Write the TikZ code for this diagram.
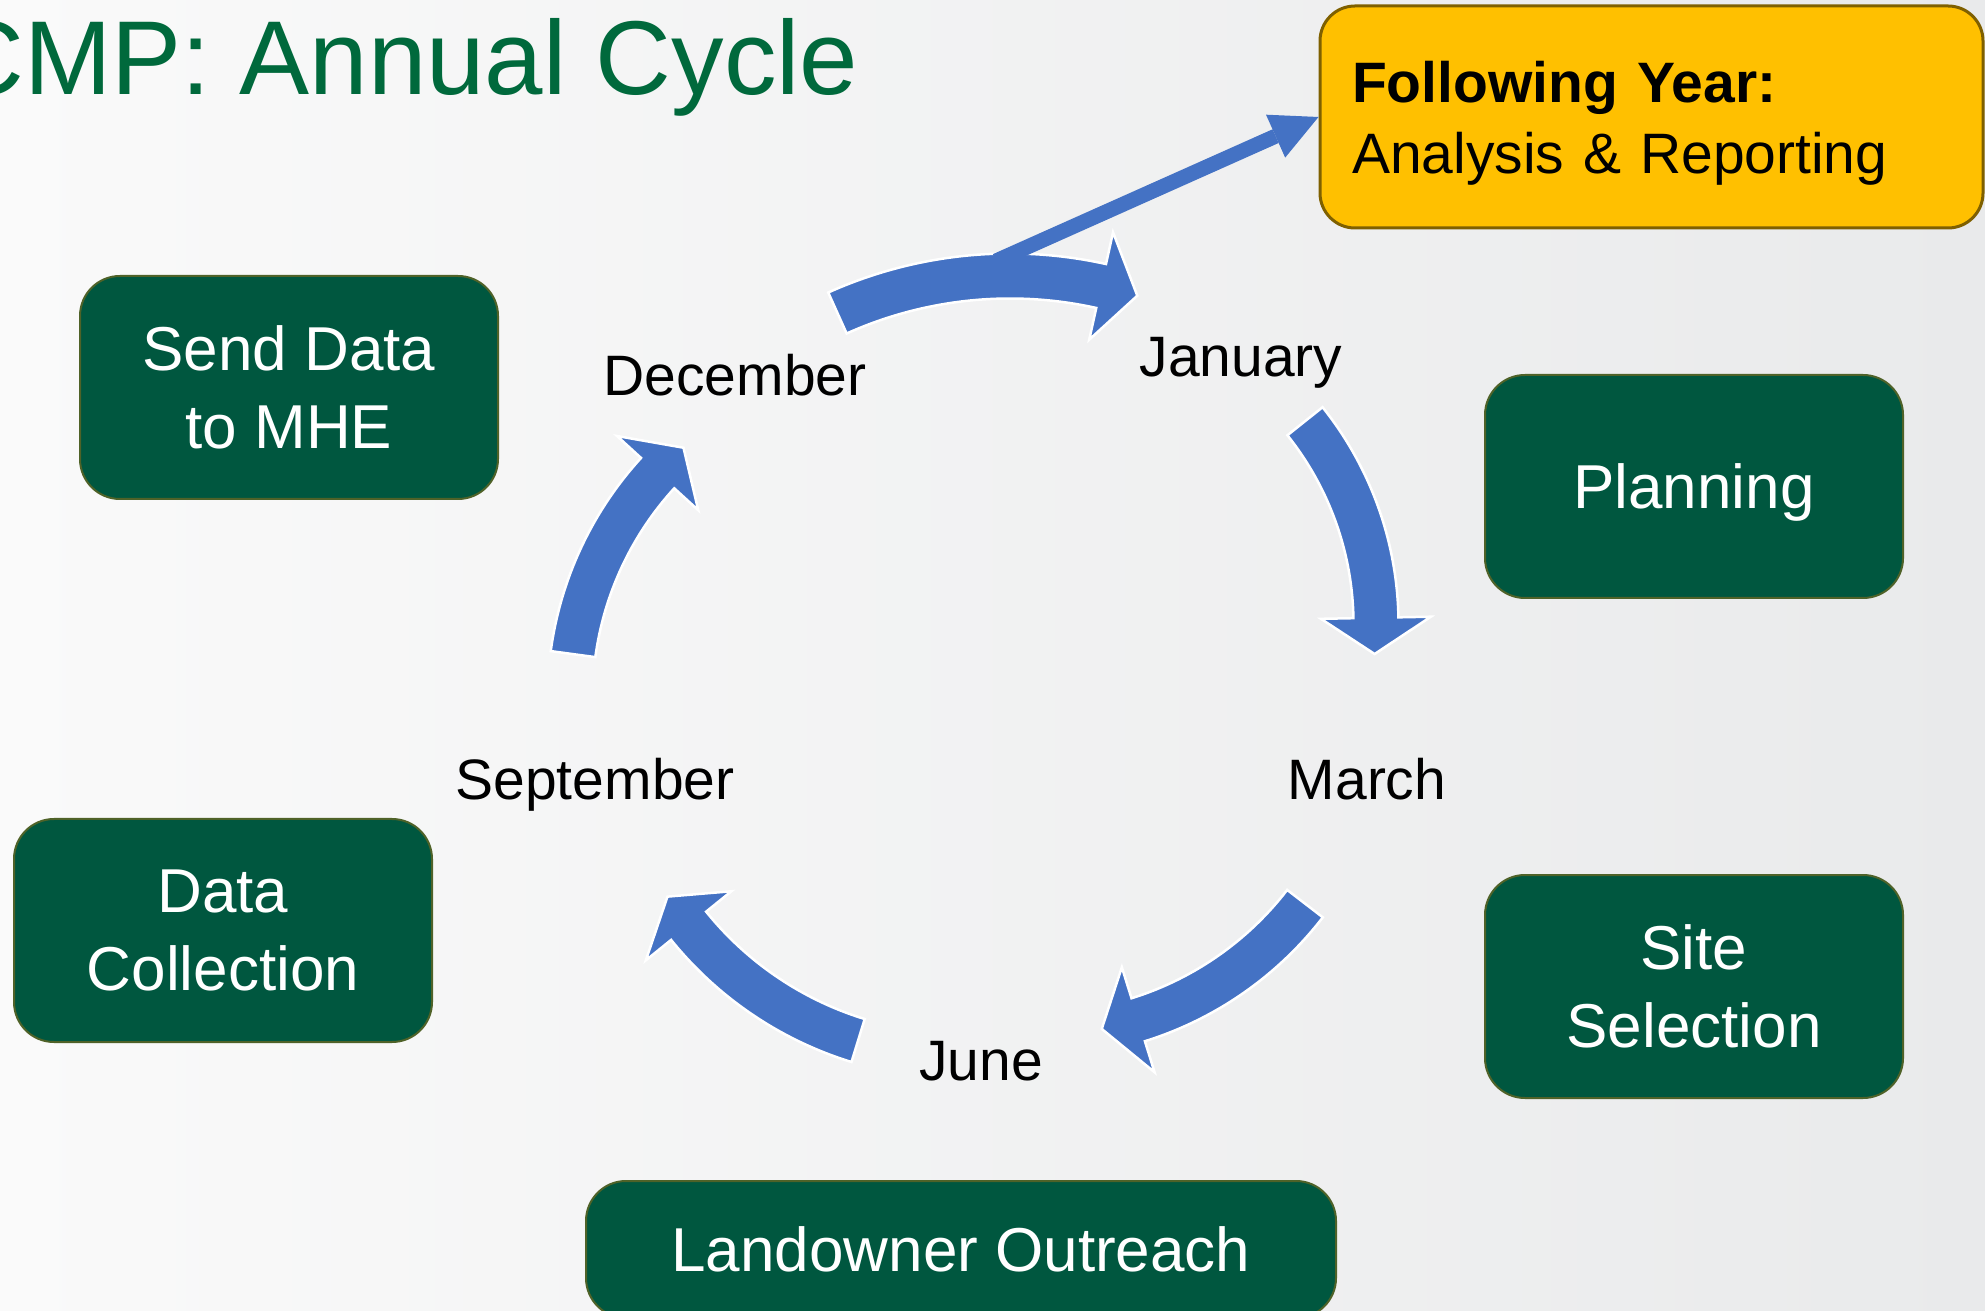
\documentclass[tikz,border=0pt]{standalone}
\usepackage{fontspec}
\setmainfont{Liberation Sans}
\usepackage{tikz}
\usetikzlibrary{arrows.meta,calc}
\definecolor{cycleblue}{HTML}{4472C4}
\definecolor{boxgreen}{HTML}{00573F}
\definecolor{boxrim}{HTML}{4F6228}
\definecolor{gold}{HTML}{FFC000}
\definecolor{goldrim}{HTML}{7F6000}
\definecolor{titlegreen}{HTML}{00693C}
\definecolor{bgleft}{HTML}{FAFAFA}
\definecolor{bgright}{HTML}{E9EAEB}
\def\fs#1#2{\fontsize{#1pt}{#2pt}\selectfont}
% curved block arrow: centre x, centre y, radius, start angle, neck angle, tip angle
\def\cyclearrow#1#2#3#4#5#6{\fill[cyclearc] ($(#1pt,#2pt)+(#4:{#3pt+22.5pt})$) arc[start angle=#4, end angle=#5, radius=#3pt+22.5pt] -- ($(#1pt,#2pt)+(#5:{#3pt+55pt})$) -- ($(#1pt,#2pt)+(#6:#3pt)$) -- ($(#1pt,#2pt)+(#5:{#3pt-55pt})$) -- ($(#1pt,#2pt)+(#5:{#3pt-22.5pt})$) arc[start angle=#5, end angle=#4, radius=#3pt-22.5pt] -- cycle;}

\begin{document}
\begin{tikzpicture}[cyclearc/.style={fill=cycleblue, draw=white, line width=2.5pt, line join=miter}, feed/.style={draw=cycleblue, line width=15pt, -{Triangle[width=47pt, length=47pt, line width=0pt]}}, month/.style={font=\fs{57}{68}, inner sep=0pt, anchor=base}, greenbox/.style={rectangle, rounded corners=40pt, fill=boxgreen, draw=boxrim, line width=2pt, text=white, align=center, font=\fs{62}{78}, minimum width=418pt, minimum height=223pt, inner sep=0pt, text depth=0pt}]
	\useasboundingbox (0pt, 0pt) rectangle (1985pt, 1310pt);
	\shade[left color=bgleft, right color=bgright] (0pt, 0pt) rectangle (1985pt, 1310pt);
	\draw (-52.0pt, 1215.0pt)node[anchor=base west, inner sep=0pt, text=titlegreen, font=\fs{105}{120}](title){CMP: Annual Cycle};
	\draw (1651.5pt, 1193.0pt)node[rectangle, rounded corners=35pt, fill=gold, draw=goldrim, line width=3pt, minimum width=663pt, minimum height=222pt, text width=599pt, inner xsep=32pt, inner ysep=0pt, align=left, font=\fs{57}{71}, text depth=71pt](follow){\textbf{Following Year:}\\Analysis \& Reporting};
	\draw (289.0pt, 922.5pt)node[greenbox](send){Send Data\\to MHE};
	\draw (1694.0pt, 823.5pt)node[greenbox](plan){Planning};
	\draw (1694.0pt, 323.5pt)node[greenbox](site){Site\\Selection};
	\draw (223.0pt, 379.5pt)node[greenbox](collect){Data\\Collection};
	\draw (961.0pt, 60.5pt)node[greenbox, minimum width=750pt, minimum height=137pt](outreach){Landowner Outreach};
	\draw (735.0pt, 914.0pt)node[month](dec){December};
	\draw (1241.0pt, 933.0pt)node[month](jan){January};
	\draw (1367.0pt, 510.0pt)node[month](mar){March};
	\draw (981.0pt, 230.0pt)node[month](jun){June};
	\draw (595.0pt, 510.0pt)node[month](sep){September};
	\cyclearrow{1010}{613}{421}{114.2}{77.5}{72.4}
	\cyclearrow{1051}{686}{325}{38.6}{1.1}{-5.3}
	\cyclearrow{1038}{612}{337}{-37.6}{-72.7}{-79.1}
	\cyclearrow{961}{604}{350}{252.9}{218.9}{213}
	\cyclearrow{905}{611}{335}{172.3}{137.6}{131.4}
	\coordinate (fork) at (996.0pt, 1049.0pt);
	\draw[feed] (fork) -- (follow.west);
	\end{tikzpicture}
\end{document}
